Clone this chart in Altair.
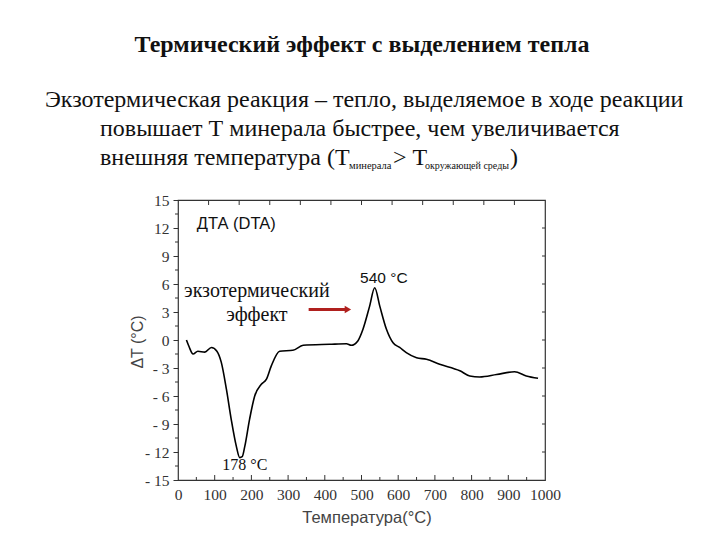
import altair as alt
import pandas as pd

# ---- data ----
temps = [23, 30, 41, 54, 73, 91, 106, 118, 132, 145, 159, 168, 175, 182, 195, 209, 227, 241,
         254, 277, 313, 341, 413, 459, 472, 490, 504, 522, 536, 550, 568, 586, 604, 622, 650,
         677, 713, 768, 795, 822, 868, 917, 949, 981]
dta = [0.0, -0.7, -1.5, -1.2, -1.3, -0.8, -1.2, -2.4, -5.3, -8.5, -11.4, -12.6, -12.5, -11.4,
       -8.5, -6.0, -4.75, -4.2, -2.8, -1.2, -1.1, -0.57, -0.46, -0.4, -0.57, -0.1, 1.15, 3.6,
       5.6, 3.6, 1.15, -0.3, -0.8, -1.35, -1.9, -2.07, -2.6, -3.3, -3.85, -3.96, -3.7, -3.4,
       -3.85, -4.1]

x_major = list(range(0, 1001, 100))
x_minor = list(range(50, 1000, 100))
top_ticks = [i * 1000 / 12 for i in range(1, 12)]
y_major = list(range(-15, 16, 3))
y_minor = [v + 1.5 for v in range(-15, 15, 3)]

title_text = "Термический эффект с выделением тепла"
para1 = "Экзотермическая реакция – тепло, выделяемое в ходе реакции"
para2 = "повышает Т минерала быстрее, чем увеличивается"
para3 = "внешняя температура (Т"
sub1 = "минерала"
mid3 = "> Т"
sub2 = "окружающей среды"
end3 = ")"

W, H = 367, 280
SERIF = "Liberation Serif"
SANS = "Liberation Sans"

xs = alt.Scale(domain=[0, 1000], nice=False, zero=False)
ys = alt.Scale(domain=[-15, 15], nice=False, zero=False)

AX = alt.Axis(values=x_major, ticks=False, domain=False, grid=False,
              labelFont=SERIF, labelFontSize=15.5, labelColor="#333",
              labelPadding=7, labelOverlap=False, format="d",
              labelFlush=False, title=None)
AY = alt.Axis(values=y_major, tickSize=5, tickColor="#333",
              domain=False, grid=False, labelFont=SERIF,
              labelFontSize=15.5, labelColor="#333", labelPadding=4,
              labelOverlap=False, labelFlush=False,
              labelExpr="datum.value < 0 ? '- ' + abs(datum.value) : datum.value",
              title=None)

def X(field):
    return alt.X(field, scale=xs, axis=AX)

def Y(field):
    return alt.Y(field, scale=ys, axis=AY)

df = pd.DataFrame({"T": temps, "dT": dta})

line = alt.Chart(df).mark_line(color="black", strokeWidth=1.6, interpolate="monotone").encode(
    x=X("T:Q"), y=Y("dT:Q"))

def rules_x(vals, y1, y2):
    return alt.Chart(pd.DataFrame({"v": vals})).mark_rule(color="#333", strokeWidth=1).encode(
        x=X("v:Q"), y=alt.value(y1), y2=alt.value(y2))

def rules_y(vals, x1, x2):
    return alt.Chart(pd.DataFrame({"v": vals})).mark_rule(color="#333", strokeWidth=1).encode(
        y=Y("v:Q"), x=alt.value(x1), x2=alt.value(x2))

bottom_major = rules_x([v for v in x_major if 0 < v < 1000], H, H - 5)
bottom_minor = rules_x(x_minor, H, H - 3)
top_minor = rules_x(top_ticks, 0, 5)
left_minor = rules_y(y_minor, -3, 0)
right_ticks = rules_y([v for v in y_major if -15 < v < 15], W, W - 3)

def data_text(x, y, text, font, size, align="center", color="#111"):
    return alt.Chart(pd.DataFrame({"x": [x], "y": [y], "t": [text]})).mark_text(
        font=font, fontSize=size, align=align, baseline="alphabetic", color=color).encode(
        x=X("x:Q"), y=Y("y:Q"), text="t:N")

def px_text(x, y, text, font, size, align="left", weight="normal", color="#111", angle=0):
    kw = dict(font=font, fontSize=size, align=align, baseline="alphabetic", color=color,
              fontWeight=weight)
    if angle:
        kw["angle"] = angle
    return alt.Chart(pd.DataFrame({"t": [text]})).mark_text(**kw).encode(
        x=alt.value(x), y=alt.value(y), text="t:N")

ann = [
    data_text(51, 11.9, "ДТА (DTA)", SANS, 16.5, align="left"),
    data_text(561, 6.1, "540 °C", SANS, 15.5),
    data_text(215, 4.6, "экзотермический", SERIF, 20),
    data_text(215, 2.0, "эффект", SERIF, 20),
    data_text(182, -13.9, "178 °C", SERIF, 16),
]
xtitle = alt.Chart(pd.DataFrame({"x": [515], "t": ["Температура(°C)"]})).mark_text(
    font=SANS, fontSize=16.5, align="center", baseline="alphabetic", color="#444").encode(
    x=X("x:Q"), y=alt.value(323), text="t:N")

arrow_line = alt.Chart(pd.DataFrame({"x": [356], "x2": [458], "y": [3.26]})).mark_rule(
    color="#b0201e", strokeWidth=3).encode(
    x=X("x:Q"), x2="x2:Q", y=Y("y:Q"))
arrow_head = alt.Chart(pd.DataFrame({"x": [463], "y": [3.26]})).mark_point(
    shape="triangle-right", filled=True, size=55, color="#b0201e", opacity=1).encode(
    x=X("x:Q"), y=Y("y:Q"))

ytitle = px_text(-35, 142, "ΔT (°C)", SANS, 16, align="center", color="#444", angle=270)

texts = [
    px_text(184, -148, title_text, SERIF, 24, align="center", weight="bold"),
    px_text(-133, -93, para1, SERIF, 24),
    px_text(-78, -64, para2, SERIF, 24),
    px_text(-78, -35, para3, SERIF, 24),
    px_text(171, -31, sub1, SERIF, 10.5),
    px_text(215, -35, mid3, SERIF, 24),
    px_text(247, -31, sub2, SERIF, 10),
    px_text(332, -35, end3, SERIF, 24),
]

chart = alt.layer(
    line, bottom_major, bottom_minor, top_minor, left_minor, right_ticks,
    *ann, xtitle, arrow_line, arrow_head, ytitle, *texts
).properties(
    width=W, height=H,
    autosize=alt.AutoSizeParams(type="none"),
    padding={"left": 170, "top": 192, "right": 167, "bottom": 52},
    background="white",
).configure_view(stroke="#333", strokeWidth=1.2)

chart.save("out.html", embed_options={"renderer": "svg", "actions": False})
